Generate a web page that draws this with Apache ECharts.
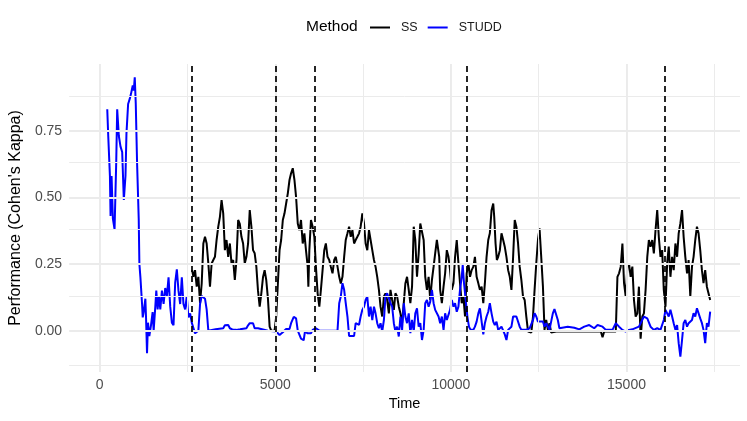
<!DOCTYPE html>
<html>
<head>
    <meta charset="utf-8">
    <title>Kappa over time</title>
    <script type="text/javascript" src="https://cdn.jsdelivr.net/npm/echarts@6/dist/echarts.min.js"></script>
    <style>
        body { margin: 0; background: #fff; }
    </style>
</head>
<body>
    <div id="main" style="width:747px;height:421px;"></div>
    <script type="text/javascript">
    // STUDD (blue)
    var studdTime = [216, 244, 292, 310, 339, 376, 424, 471, 499, 546, 594, 641, 688, 735, 763, 810, 858, 895, 942, 971,
        999, 1028, 1065, 1112, 1131, 1160, 1207, 1226, 1254, 1301, 1320, 1348, 1376, 1414, 1461, 1508, 1537, 1584, 1612, 1650,
        1688, 1726, 1773, 1820, 1867, 1914, 1961, 2009, 2056, 2103, 2150, 2197, 2244, 2292, 2339, 2386, 2433, 2480, 2527, 2575,
        2622, 2669, 2716, 2763, 2810, 2858, 2905, 2952, 2999, 3046, 3094, 3300, 3518, 3565, 3612, 3660, 3707, 3800, 3895, 4000,
        4178, 4226, 4273, 4320, 4367, 4412, 4461, 4508, 4791, 5026, 5122, 5215, 5309, 5405, 5450, 5526, 5592, 5640, 5688, 5733,
        5809, 5846, 5923, 6016, 6064, 6157, 6254, 6772, 6820, 6865, 6913, 6961, 7006, 7055, 7102, 7244, 7289, 7386, 7431, 7479,
        7527, 7572, 7620, 7668, 7714, 7762, 7810, 7855, 7903, 7951, 7997, 8045, 8093, 8138, 8186, 8234, 8280, 8328, 8376, 8421,
        8469, 8517, 8563, 8611, 8659, 8704, 8752, 8800, 8846, 8894, 8942, 8987, 9035, 9083, 9129, 9177, 9225, 9270, 9318, 9366,
        9412, 9460, 9508, 9553, 9601, 9649, 9695, 9743, 9791, 9836, 9884, 9932, 9977, 10026, 10074, 10119, 10167, 10215, 10260, 10309,
        10337, 10374, 10422, 10470, 10515, 10563, 10640, 10685, 10733, 10781, 10826, 10875, 10923, 10968, 11016, 11064, 11109, 11158, 11206, 11251,
        11299, 11347, 11441, 11534, 11582, 11630, 11724, 11772, 11865, 11913, 11959, 12007, 12148, 12241, 12338, 12383, 12431, 12479, 12524, 12621,
        12666, 12714, 12807, 12903, 12949, 12997, 13045, 13090, 13138, 13327, 13515, 13656, 13798, 13939, 13987, 14081, 14177, 14318, 14412, 14601,
        14695, 14788, 14884, 14978, 15071, 15167, 15354, 15402, 15496, 15592, 15685, 15779, 15875, 15968, 16062, 16110, 16158, 16203, 16251, 16299,
        16344, 16393, 16441, 16486, 16534, 16582, 16627, 16675, 16724, 16769, 16817, 16865, 16910, 16958, 17006, 17052, 17100, 17148, 17193, 17241,
        17289, 17335, 17383];
    var studdKappa = [0.83, 0.73, 0.58, 0.43, 0.58, 0.42, 0.38, 0.63, 0.83, 0.73, 0.69, 0.67, 0.49, 0.58, 0.74, 0.85, 0.87, 0.89, 0.92, 0.90,
        0.95, 0.85, 0.63, 0.42, 0.25, 0.20, 0.10, 0.05, 0.07, 0.12, 0.05, -0.085, 0.03, -0.02, 0.02, 0.07, 0.00, 0.09, 0.15, 0.08,
        0.13, 0.08, 0.15, 0.10, 0.16, 0.13, 0.20, 0.09, 0.03, 0.02, 0.18, 0.23, 0.15, 0.10, 0.20, 0.10, 0.08, 0.13, 0.05, 0.065,
        0.03, 0.01, -0.01, -0.005, 0.00, 0.10, 0.13, 0.13, 0.12, 0.08, 0.00, 0.005, 0.009, 0.02, 0.02, 0.021, 0.009, 0.003, 0.003, 0.005,
        0.009, 0.02, 0.028, 0.034, 0.028, 0.009, 0.009, 0.009, 0.0, -0.003, -0.016, -0.006, 0.006, 0.006, 0.028, 0.052, 0.046, 0.0, 0.0, -0.03,
        -0.036, -0.003, -0.01, -0.01, 0.003, 0.009, 0.0, 0.0, 0.103, 0.128, 0.178, 0.153, 0.103, 0.053, -0.02, -0.02, 0.028, 0.022, 0.053, 0.078,
        0.09, 0.115, 0.128, 0.053, 0.09, 0.04, 0.09, 0.065, 0.028, 0.009, 0.028, -0.003, 0.04, 0.128, 0.14, 0.121, 0.103, 0.09, 0.028, -0.003,
        0.015, -0.022, 0.053, 0.003, 0.103, 0.053, 0.028, 0.065, -0.009, 0.04, -0.003, 0.065, 0.084, 0.015, 0.028, -0.035, 0.003, 0.103, 0.115, 0.09,
        0.109, 0.153, 0.103, 0.078, 0.084, 0.053, 0.028, 0.053, 0.003, 0.065, 0.04, 0.046, 0.078, 0.115, 0.09, 0.103, 0.071, 0.09, 0.153, 0.202,
        0.246, 0.178, 0.115, 0.053, 0.015, 0.003, 0.003, 0.015, 0.034, 0.065, 0.084, 0.078, -0.014, 0.028, 0.053, 0.071, 0.103, 0.065, 0.034, 0.021,
        0.034, 0.003, 0.015, -0.014, -0.035, 0.003, 0.015, 0.053, 0.053, 0.046, 0.015, 0.003, 0.003, 0.009, 0.04, 0.065, 0.053, 0.034, 0.04, 0.034,
        0.015, 0.028, 0.003, 0.065, 0.081, 0.076, 0.04, 0.009, 0.003, 0.015, 0.011, 0.005, 0.015, 0.021, 0.021, 0.009, 0.021, 0.015, 0.003, 0.003,
        0.028, 0.015, 0.003, -0.004, 0.003, 0.005, 0.015, 0.028, 0.053, 0.046, 0.015, 0.003, 0.009, 0.003, 0.04, 0.078, 0.071, 0.053, 0.078, 0.053,
        0.028, 0.003, 0.021, -0.047, -0.097, -0.035, 0.028, 0.04, 0.015, 0.028, 0.021, 0.04, 0.065, 0.053, 0.084, 0.09, 0.046, 0.028, 0.003, -0.047,
        0.028, 0.015, 0.071];

    // SS (black)
    var ssTime = [2632, 2669, 2716, 2763, 2810, 2858, 2905, 2952, 2999, 3046, 3094, 3141, 3188, 3235, 3282, 3329, 3377, 3424, 3471, 3518,
        3565, 3612, 3660, 3707, 3754, 3801, 3848, 3895, 3943, 3990, 4037, 4084, 4131, 4178, 4226, 4273, 4320, 4367, 4414, 4461,
        4508, 4556, 4603, 4650, 4697, 4743, 4791, 4839, 4884, 4980, 5026, 5074, 5122, 5167, 5215, 5263, 5309, 5357, 5405, 5450,
        5498, 5546, 5592, 5640, 5688, 5733, 5781, 5829, 5874, 5923, 5942, 5970, 6016, 6064, 6112, 6157, 6206, 6254, 6299, 6347,
        6395, 6440, 6488, 6536, 6582, 6630, 6678, 6723, 6772, 6820, 6865, 6913, 6961, 7006, 7055, 7102, 7148, 7196, 7244, 7289,
        7337, 7386, 7431, 7479, 7527, 7572, 7620, 7668, 7714, 7762, 7810, 7855, 7903, 7951, 7997, 8045, 8093, 8138, 8186, 8234,
        8280, 8328, 8376, 8421, 8469, 8517, 8563, 8611, 8659, 8704, 8752, 8800, 8846, 8894, 8942, 8987, 9035, 9083, 9129, 9177,
        9225, 9270, 9318, 9366, 9412, 9460, 9508, 9553, 9601, 9630, 9668, 9695, 9743, 9791, 9836, 9884, 9932, 9977, 10026, 10074,
        10119, 10167, 10215, 10260, 10309, 10356, 10403, 10450, 10498, 10545, 10592, 10640, 10685, 10733, 10781, 10826, 10875, 10923, 10968, 11016,
        11064, 11109, 11158, 11206, 11234, 11272, 11309, 11347, 11395, 11441, 11489, 11534, 11582, 11630, 11677, 11724, 11772, 11818, 11865, 11913,
        11959, 12007, 12054, 12101, 12148, 12196, 12290, 12338, 12383, 12431, 12479, 12524, 12572, 12621, 12666, 12714, 12761, 12807, 12855, 13000,
        13500, 14000, 14270, 14318, 14365, 14695, 14742, 14788, 14836, 14884, 14930, 14978, 15026, 15071, 15119, 15167, 15213, 15261, 15309, 15354,
        15402, 15450, 15496, 15544, 15592, 15637, 15685, 15733, 15779, 15827, 15875, 15920, 15968, 16016, 16062, 16110, 16158, 16203, 16251, 16299,
        16344, 16393, 16441, 16486, 16534, 16582, 16627, 16675, 16724, 16769, 16817, 16865, 16910, 16958, 17006, 17052, 17100, 17148, 17193, 17241,
        17289, 17335, 17383];
    var ssKappa = [0.227, 0.202, 0.227, 0.165, 0.202, 0.103, 0.177, 0.327, 0.352, 0.327, 0.252, 0.165, 0.252, 0.265, 0.277, 0.34, 0.39, 0.427, 0.49, 0.44,
        0.302, 0.34, 0.277, 0.327, 0.252, 0.265, 0.19, 0.265, 0.415, 0.40, 0.352, 0.327, 0.252, 0.277, 0.327, 0.452, 0.39, 0.302, 0.29, 0.24,
        0.15, 0.09, 0.14, 0.20, 0.227, 0.19, 0.12, 0.015, 0.0, 0.0, 0.053, 0.177, 0.302, 0.34, 0.415, 0.44, 0.477, 0.515, 0.565, 0.59,
        0.609, 0.565, 0.502, 0.402, 0.377, 0.415, 0.327, 0.365, 0.302, 0.24, 0.165, 0.302, 0.415, 0.39, 0.352, 0.24, 0.14, 0.09, 0.153, 0.227,
        0.302, 0.327, 0.277, 0.265, 0.24, 0.215, 0.265, 0.277, 0.24, 0.202, 0.177, 0.202, 0.277, 0.34, 0.365, 0.39, 0.352, 0.377, 0.327, 0.34,
        0.352, 0.365, 0.39, 0.44, 0.402, 0.327, 0.302, 0.377, 0.34, 0.302, 0.265, 0.24, 0.202, 0.153, 0.09, 0.053, 0.128, 0.14, 0.115, 0.065,
        0.153, 0.115, 0.078, 0.14, 0.128, 0.09, 0.065, 0.028, 0.103, 0.177, 0.202, 0.153, 0.103, 0.165, 0.39, 0.34, 0.202, 0.29, 0.402, 0.40,
        0.34, 0.202, 0.153, 0.202, 0.115, 0.19, 0.24, 0.29, 0.34, 0.346, 0.277, 0.153, 0.103, 0.165, 0.215, 0.302, 0.277, 0.227, 0.153, 0.178,
        0.277, 0.34, 0.252, 0.178, 0.103, 0.128, 0.053, 0.215, 0.252, 0.202, 0.227, 0.24, 0.277, 0.202, 0.178, 0.153, 0.165, 0.103, 0.178, 0.277,
        0.34, 0.365, 0.452, 0.477, 0.427, 0.327, 0.265, 0.277, 0.302, 0.365, 0.34, 0.315, 0.277, 0.227, 0.202, 0.153, 0.277, 0.415, 0.39, 0.327,
        0.24, 0.19, 0.128, 0.115, 0.053, -0.003, -0.007, 0.053, 0.153, 0.252, 0.34, 0.384, 0.277, 0.165, 0.003, 0.04, 0.003, 0.028, -0.007, -0.003,
        -0.003, -0.003, -0.003, -0.025, -0.003, -0.003, 0.202, 0.215, 0.24, 0.327, 0.178, 0.128, 0.24, 0.252, 0.202, 0.24, 0.115, 0.053, 0.065, 0.165,
        -0.03, 0.053, 0.065, 0.153, 0.277, 0.34, 0.315, 0.34, 0.29, 0.377, 0.452, 0.352, 0.277, 0.302, 0.153, 0.09, 0.252, 0.315, 0.202, 0.277,
        0.227, 0.327, 0.277, 0.365, 0.402, 0.452, 0.352, 0.277, 0.215, 0.265, 0.128, 0.24, 0.277, 0.34, 0.39, 0.365, 0.302, 0.227, 0.178, 0.227,
        0.165, 0.14, 0.115];

    // detected drifts (dashed lines)
    var changePoints = [2630, 5005, 6112, 10450, 16080];

    // axis ticks and grid
    var xTicks = [0, 5000, 10000, 15000];
    var xMinor = [2500, 7500, 12500, 17500];
    var yTicks = [0, 0.25, 0.5, 0.75];
    var yMinor = [-0.125, 0.125, 0.375, 0.625, 0.875];

    var gridLines = [];
    xTicks.forEach(function (v) { gridLines.push({xAxis: v, lineStyle: {width: 1.9}}); });
    xMinor.forEach(function (v) { gridLines.push({xAxis: v, lineStyle: {width: 1}}); });
    yTicks.forEach(function (v) { gridLines.push({yAxis: v, lineStyle: {width: 1.9}}); });
    yMinor.forEach(function (v) { gridLines.push({yAxis: v, lineStyle: {width: 1}}); });

    function pairs(ts, vs) {
        return ts.map(function (t, i) { return [t, vs[i]]; });
    }

    var myChart = echarts.init(document.getElementById('main'));
    var font = 'Liberation Sans, Arial, Helvetica, sans-serif';

    var option = {
        animation: false,
        title: {
            text: 'Method',
            left: 306,
            top: 19,
            padding: 0,
            textStyle: {
                fontFamily: font,
                fontSize: 15.5,
                fontWeight: 'normal',
                color: '#000'
            }
        },
        legend: {
            data: ['SS', 'STUDD'],
            left: 370,
            top: 21,
            padding: 0,
            icon: 'rect',
            itemWidth: 20,
            itemHeight: 2,
            itemGap: 10,
            textStyle: {
                fontFamily: font,
                fontSize: 12.5,
                color: '#1a1a1a',
                padding: [0, 0, 0, 6]
            }
        },
        grid: {
            left: 65,
            right: 7,
            top: 64,
            bottom: 49
        },
        xAxis: {
            type: 'value',
            min: -869,
            max: 18232,
            name: 'Time',
            nameLocation: 'middle',
            nameGap: 24,
            nameTextStyle: {
                fontFamily: font,
                fontSize: 14.5,
                color: '#000'
            },
            axisLine: {show: false},
            axisTick: {show: false},
            splitLine: {show: false},
            axisLabel: {
                customValues: xTicks,
                formatter: function (v) { return String(v); },
                fontFamily: font,
                fontSize: 14,
                color: '#4D4D4D',
                margin: 6
            }
        },
        yAxis: {
            type: 'value',
            min: -0.155,
            max: 1.0,
            name: "Performance (Cohen's Kappa)",
            nameLocation: 'middle',
            nameGap: 41,
            nameTextStyle: {
                fontFamily: font,
                fontSize: 16,
                color: '#000'
            },
            axisLine: {show: false},
            axisTick: {show: false},
            splitLine: {show: false},
            axisLabel: {
                customValues: yTicks,
                formatter: function (v) { return v.toFixed(2); },
                fontFamily: font,
                fontSize: 14,
                color: '#4D4D4D',
                margin: 7
            }
        },
        series: [{
            name: 'grid',
            type: 'line',
            data: [],
            z: 0,
            silent: true,
            markLine: {
                silent: true,
                symbol: ['none', 'none'],
                label: {show: false},
                lineStyle: {color: '#EBEBEB', type: 'solid'},
                emphasis: {disabled: true},
                data: gridLines
            }
        }, {
            name: 'SS',
            type: 'line',
            data: pairs(ssTime, ssKappa),
            showSymbol: false,
            symbol: 'none',
            z: 2,
            color: '#000000',
            lineStyle: {width: 2, color: '#000000'}
        }, {
            name: 'STUDD',
            type: 'line',
            data: pairs(studdTime, studdKappa),
            showSymbol: false,
            symbol: 'none',
            z: 3,
            color: '#0000FF',
            lineStyle: {width: 2, color: '#0000FF'}
        }, {
            name: 'drift',
            type: 'line',
            data: [],
            z: 4,
            silent: true,
            markLine: {
                silent: true,
                symbol: ['none', 'none'],
                label: {show: false},
                lineStyle: {color: '#000', type: [6, 4], width: 1.7},
                emphasis: {disabled: true},
                data: changePoints.map(function (t) { return {xAxis: t}; })
            }
        }]
    };
    myChart.setOption(option);
    </script>
</body>
</html>
